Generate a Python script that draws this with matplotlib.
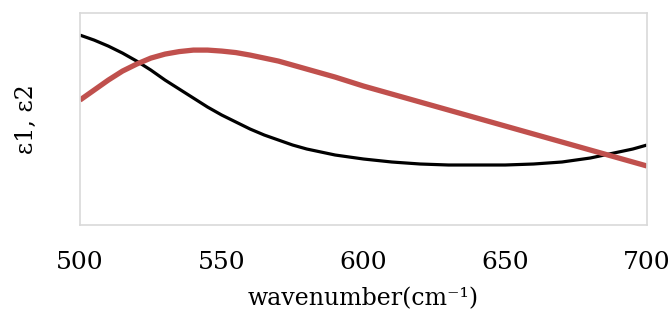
import matplotlib.pyplot as plt

# wavenumber (cm-1)
wavenumber = [500, 505, 510, 515, 520, 525, 530, 535, 540, 545, 550,
              555, 560, 565, 570, 575, 580, 585, 590, 595, 600,
              605, 610, 615, 620, 625, 630, 635, 640, 645, 650,
              655, 660, 665, 670, 675, 680, 685, 690, 695, 700]
# epsilon 1 (black) and epsilon 2 (red), arbitrary units
eps1 = [1.90, 1.85, 1.79, 1.72, 1.64, 1.55, 1.45, 1.36, 1.27, 1.18, 1.10,
        1.03, 0.96, 0.90, 0.85, 0.80, 0.76, 0.73, 0.70, 0.68, 0.66,
        0.645, 0.63, 0.62, 0.61, 0.605, 0.60, 0.60, 0.60, 0.60, 0.60,
        0.605, 0.61, 0.62, 0.63, 0.65, 0.67, 0.70, 0.73, 0.76, 0.80]
eps2 = [1.25, 1.35, 1.45, 1.54, 1.61, 1.67, 1.71, 1.735, 1.75, 1.75, 1.74,
        1.725, 1.70, 1.67, 1.64, 1.60, 1.56, 1.52, 1.48, 1.435, 1.39,
        1.35, 1.31, 1.27, 1.23, 1.19, 1.15, 1.11, 1.07, 1.03, 0.99,
        0.95, 0.91, 0.87, 0.83, 0.79, 0.75, 0.71, 0.67, 0.63, 0.59]
xticks = [500, 550, 600, 650, 700]

plt.rcParams['font.family'] = ['DejaVu Serif']

fig = plt.figure(figsize=(6.71, 3.2), dpi=100)
ax = fig.add_axes([0.1192, 0.297, 0.845, 0.662])

ax.plot(wavenumber, eps1, color='black', linewidth=2.3,
        solid_capstyle='butt', solid_joinstyle='round')
ax.plot(wavenumber, eps2, color='#C0504D', linewidth=3.8,
        solid_capstyle='butt', solid_joinstyle='round')

ax.set_xlim(500, 700)
ax.set_ylim(0, 2.12)
ax.set_xticks(xticks)
ax.set_yticks([])
ax.tick_params(axis='x', length=0, pad=19, labelsize=18)
for s in ax.spines.values():
    s.set_color('#D9D9D9')
    s.set_linewidth(1.2)

ax.set_xlabel("wavenumber(cm⁻¹)", fontsize=17, labelpad=9)
ax.set_ylabel("ε1, ε2", fontsize=17, labelpad=30)

fig.savefig("out.png", dpi=100)
